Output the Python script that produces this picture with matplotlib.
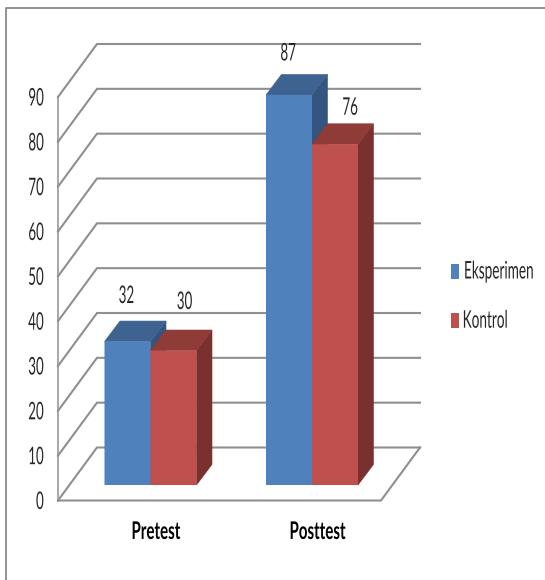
import matplotlib
matplotlib.use("Agg")
import matplotlib.pyplot as plt
from matplotlib.lines import Line2D
from matplotlib.patches import Polygon, Rectangle
from matplotlib.patheffects import AbstractPathEffect
from matplotlib.transforms import Affine2D

categories = ["Pretest", "Posttest"]
eksperimen = [32, 87]
kontrol = [30, 76]
y_ticks = [0, 10, 20, 30, 40, 50, 60, 70, 80, 90]
series_names = ["Eksperimen", "Kontrol"]

W, H = 545, 580
plt.rcParams["font.family"] = ["Lato", "DejaVu Sans"]


class Squeeze(AbstractPathEffect):
    """Narrow glyphs horizontally: the reference picture is a stretched image."""
    def __init__(self, sx, anchor="center"):
        super().__init__()
        self.sx, self.anchor = sx, anchor

    def draw_path(self, renderer, gc, tpath, affine, rgbFace=None):
        e = tpath.get_extents()
        a = {"left": 0.0, "center": (e.x0 + e.x1) / 2, "right": e.x1}[self.anchor]
        t = Affine2D().translate(-a, 0).scale(self.sx, 1).translate(a, 0)
        renderer.draw_path(gc, tpath, t + affine, rgbFace)


fig = plt.figure(figsize=(W / 100, H / 100), dpi=100, facecolor="white")
L, R, T, B = 58, 381, 97, 500.5
ax = fig.add_axes([L / W, 1 - B / H, (R - L) / W, (B - T) / H])
ax.patch.set_alpha(0)
for s in ax.spines.values():
    s.set_visible(False)
ax.set_ylim(0, 90)
PX_X = 161.5
PX_Y = (B - T) / 90
ax.set_xlim((L - 150.5) / PX_X, (R - 150.5) / PX_X)

# chart area frame
fig.add_artist(Line2D([6 / W, 6 / W, 1], [0, 1 - 8 / H, 1 - 8 / H], color="#8a8a8a", lw=1.3))

# walls and floor
GRID = "#8f8f8f"
wall_dx, wall_dy = 39 / PX_X, 53 / PX_Y
x0, x1 = ax.get_xlim()
ax.plot([x0, x0], [0, 90], color=GRID, lw=1.1, clip_on=False, zorder=1)
for v in y_ticks:
    ax.plot([x0, x0 + wall_dx, x1 + wall_dx], [v, v + wall_dy, v + wall_dy],
            color=GRID, lw=1.5, clip_on=False, zorder=1, solid_joinstyle="miter")
ax.plot([x0, x1, x1 + wall_dx], [0, 0, wall_dy], color=GRID, lw=1.5, clip_on=False, zorder=1,
        solid_joinstyle="miter")

# bars
base = (B - 485) / PX_Y
bw = 46 / PX_X
dx, dy = 15.5 / PX_X, 20.5 / PX_Y
styles = [("#4f81bd", "#3e6390", "#34557f"), ("#c0504d", "#8f3b38", "#7a302e")]
positions = [0, 1]
for j, (vals, (front, top, side)) in enumerate(zip([eksperimen, kontrol], styles)):
    off = -bw / 2 if j == 0 else bw / 2
    z = 3 + j
    for p, v in zip(positions, vals):
        l, r = p + off - bw / 2, p + off + bw / 2
        h = base + v
        ax.add_patch(Polygon([(r, base), (r + dx, base + dy), (r + dx, h + dy), (r, h)],
                             fc=side, ec=side, lw=0.4, zorder=z, clip_on=False))
        ax.add_patch(Polygon([(l, h), (l + dx, h + dy), (r + dx, h + dy), (r, h)],
                             fc=top, ec=top, lw=0.4, zorder=z, clip_on=False))
    bars = ax.bar([p + off for p in positions], vals, width=bw, bottom=base, color=front,
                  zorder=z + 0.5, lw=0, clip_on=False)
    for b in bars:
        b.set_snap(False)

# value labels
FS = 17.5
TXT = "#262626"
label_shift = [[(-1, 45), (11, 48)], [(-1, 41), (15, 36)]]
for j, vals in enumerate([eksperimen, kontrol]):
    off = -bw / 2 if j == 0 else bw / 2
    for i, v in enumerate(vals):
        sx_, sy_ = label_shift[i][j]
        t = ax.text(positions[i] + off + sx_ / PX_X, base + v + sy_ / PX_Y, str(v), ha="center", va="center",
                    fontsize=FS, color=TXT, zorder=8, clip_on=False)
        t.set_path_effects([Squeeze(0.55)])

# axes labels
ax.set_yticks(y_ticks)
ax.tick_params(axis="y", length=0, pad=10, labelsize=FS, labelcolor=TXT)
for t in ax.get_yticklabels():
    t.set_path_effects([Squeeze(0.55, "right")])
ax.set_xticks([p + 5 / PX_X for p in positions])
ax.set_xticklabels(categories, fontsize=FS, fontweight="bold", color="black")
ax.tick_params(axis="x", length=0, pad=14)
for t in ax.get_xticklabels():
    t.set_path_effects([Squeeze(0.62)])

# legend: swatch top, text right edge
for name, st, y_top, x_right in zip(series_names, styles, [263.5, 312.7], [534.3, 508.5]):
    fig.add_artist(Rectangle((451 / W, 1 - (y_top + 15.5) / H), 8.3 / W, 15.5 / H,
                             transform=fig.transFigure, fc=st[0], ec="none"))
    t = fig.text(x_right / W, 1 - (y_top + 15) / H, name, ha="right", va="baseline",
                 fontsize=FS, color=TXT)
    t.set_path_effects([Squeeze(0.56, "right")])

fig.savefig("out.png", dpi=100, facecolor="white")
